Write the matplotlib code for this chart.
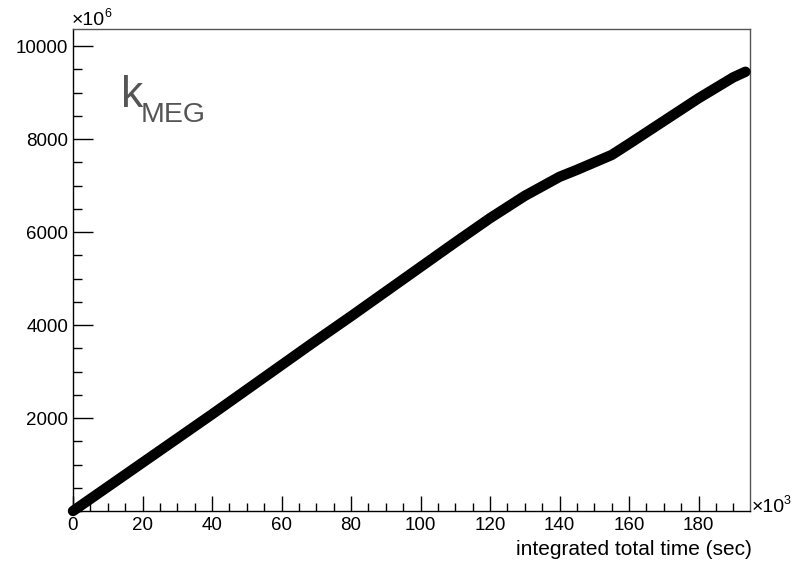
import numpy as np
import matplotlib.pyplot as plt
from matplotlib.ticker import MultipleLocator, FixedLocator

# integrated total time (units of 10^3 s) and k_MEG (units of 10^6)
time_k = [0, 10, 20, 30, 40, 50, 60, 70, 80, 90, 100, 110, 120, 130,
          140, 145, 150, 155, 160, 170, 180, 190, 193.5]
k_meg = [0, 520, 1040, 1560, 2080, 2610, 3140, 3670, 4190, 4720, 5250,
         5780, 6300, 6780, 7190, 7340, 7500, 7660, 7900, 8390, 8880,
         9330, 9450]

y_ticks = [2000, 4000, 6000, 8000, 10000]

plt.rcParams["font.family"] = ["Liberation Sans", "DejaVu Sans"]


def main():
    fig = plt.figure(figsize=(8, 5.67), dpi=100)
    ax = fig.add_axes([73 / 800, 1 - 511 / 567, 677 / 800, 482 / 567])

    ax.plot(time_k, k_meg, color="black", linewidth=7.5,
            solid_capstyle="round", solid_joinstyle="round", clip_on=False,
            zorder=3)

    ax.set_xlim(0, 194.8)
    ax.set_ylim(0, 10370)

    ax.xaxis.set_major_locator(MultipleLocator(20))
    ax.xaxis.set_minor_locator(MultipleLocator(5))
    ax.yaxis.set_major_locator(FixedLocator(y_ticks))
    ax.yaxis.set_minor_locator(MultipleLocator(500))

    ax.tick_params(axis="both", which="both", direction="in",
                   top=False, right=False, width=1, color="black",
                   labelsize=13.5, labelcolor="black")
    ax.tick_params(axis="x", which="major", length=11, pad=4.5)
    ax.tick_params(axis="x", which="minor", length=5.8)
    ax.tick_params(axis="y", which="major", length=14.4, pad=3.5)
    ax.tick_params(axis="y", which="minor", length=6.5)

    for side in ("left", "bottom"):
        ax.spines[side].set_color("black")
        ax.spines[side].set_linewidth(1)
    for side in ("top", "right"):
        ax.spines[side].set_color("#555555")
        ax.spines[side].set_linewidth(1)

    # axis multipliers, ROOT style
    fig.text(72 / 800, 1 - 25 / 567, "\u00d710", fontsize=14,
             ha="left", va="baseline")
    fig.text(104 / 800, 1 - 17 / 567, "6", fontsize=9, ha="left",
             va="baseline")
    fig.text(752 / 800, 1 - 512 / 567, "\u00d710", fontsize=14,
             ha="left", va="baseline")
    fig.text(784 / 800, 1 - 504 / 567, "3", fontsize=9, ha="left",
             va="baseline")

    # label in the pad
    fig.text(121 / 800, 1 - 107 / 567, "k", fontsize=32, color="#555555",
             ha="left", va="baseline")
    fig.text(141 / 800, 1 - 122 / 567, "MEG", fontsize=20.5, color="#555555",
             ha="left", va="baseline")

    fig.text(752 / 800, 1 - 555 / 567, "integrated total time (sec)",
             fontsize=15, ha="right", va="baseline")

    fig.savefig("out.png", dpi=100, facecolor="white")


if __name__ == "__main__":
    main()
